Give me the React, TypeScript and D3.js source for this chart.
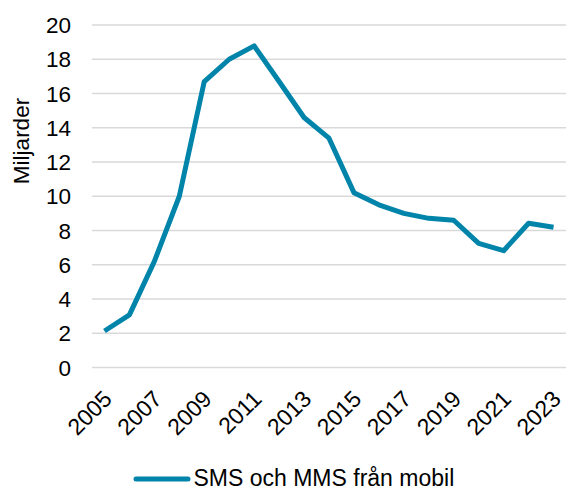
import React, { useEffect, useRef } from 'react';
import * as d3 from 'd3';

const years = [2005, 2006, 2007, 2008, 2009, 2010, 2011, 2012, 2013, 2014, 2015, 2016, 2017, 2018, 2019, 2020, 2021, 2022, 2023];
const smsMms = [2.13, 3.07, 6.2, 10.0, 16.7, 18.0, 18.78, 16.7, 14.6, 13.39, 10.21, 9.5, 9.0, 8.71, 8.6, 7.25, 6.82, 8.42, 8.19];
const yTicks = [0, 2, 4, 6, 8, 10, 12, 14, 16, 18, 20];
const xLabels = [2005, 2007, 2009, 2011, 2013, 2015, 2017, 2019, 2021, 2023];
const seriesName = 'SMS och MMS från mobil';
const yTitle = 'Miljarder';

const App = () => {
  const svgRef = useRef<SVGSVGElement>(null);

  useEffect(() => {
    const svg = d3.select(svgRef.current);
    svg.selectAll('*').remove();

    const width = 567;
    const height = 491;
    const margin = { top: 25, right: 1, bottom: 123.5, left: 92 };
    const font = 'Arial, "Liberation Sans", sans-serif';
    const color = '#0084AA';

    const x = d3.scalePoint<number>()
      .domain(years)
      .range([margin.left, width - margin.right])
      .padding(0.5);

    const y = d3.scaleLinear()
      .domain([0, 20])
      .range([height - margin.bottom, margin.top]);

    // gridlines
    svg.append('g')
      .selectAll('line')
      .data(yTicks)
      .enter().append('line')
      .attr('x1', margin.left)
      .attr('x2', width - margin.right)
      .attr('y1', d => y(d))
      .attr('y2', d => y(d))
      .attr('stroke', '#d9d9d9')
      .attr('stroke-width', 1.3);

    // y labels
    svg.append('g')
      .selectAll('text')
      .data(yTicks)
      .enter().append('text')
      .attr('x', 71)
      .attr('y', d => y(d))
      .attr('dy', '0.36em')
      .attr('text-anchor', 'end')
      .attr('font-family', font)
      .attr('font-size', 22.5)
      .attr('fill', '#000')
      .text(d => d);

    // y title
    svg.append('text')
      .attr('transform', `translate(29,141) rotate(-90)`)
      .attr('text-anchor', 'middle')
      .attr('font-family', font)
      .attr('font-size', 22.5)
      .text(yTitle);

    // x labels
    svg.append('g')
      .selectAll('text')
      .data(xLabels)
      .enter().append('text')
      .attr('transform', d => `translate(${(x(d) as number) + 3},${height - margin.bottom + 27}) rotate(-45)`)
      .attr('text-anchor', 'end')
      .attr('dy', '0.36em')
      .attr('font-family', font)
      .attr('font-size', 23)
      .text(d => d);

    // line
    const line = d3.line<number>()
      .x((_, i) => x(years[i]) as number)
      .y(d => y(d));

    svg.append('path')
      .datum(smsMms)
      .attr('d', line)
      .attr('fill', 'none')
      .attr('stroke', color)
      .attr('stroke-width', 5)
      .attr('stroke-linejoin', 'round');

    // legend
    svg.append('line')
      .attr('x1', 136)
      .attr('x2', 188)
      .attr('y1', 479)
      .attr('y2', 479)
      .attr('stroke', color)
      .attr('stroke-width', 5)
      .attr('stroke-linecap', 'round');

    svg.append('text')
      .attr('x', 193.5)
      .attr('y', 486)
      .attr('font-family', font)
      .attr('font-size', 23)
      .text(seriesName);
  }, []);

  return (
    <div style={{ position: 'absolute', left: 0, top: 0 }}>
      <svg ref={svgRef} width="567" height="491" style={{ display: 'block' }}></svg>
    </div>
  );
};

export default App;
